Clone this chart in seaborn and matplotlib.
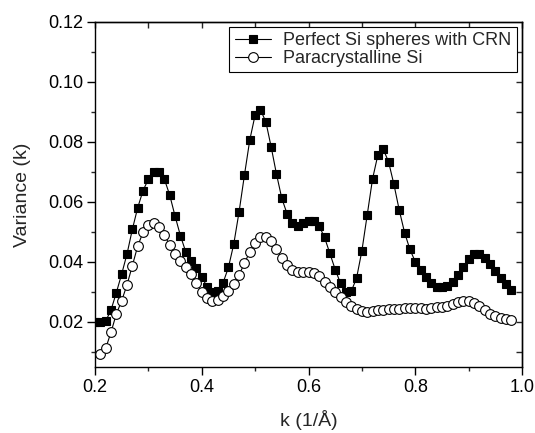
import numpy as np
import pandas as pd
import matplotlib
matplotlib.use("Agg")
import matplotlib.pyplot as plt
import seaborn as sns
from matplotlib.ticker import MultipleLocator

k_sq = [0.20, 0.21, 0.22, 0.23, 0.24, 0.25, 0.26, 0.27, 0.28, 0.29,
        0.30, 0.31, 0.32, 0.33, 0.34, 0.35, 0.36, 0.37, 0.38, 0.39,
        0.40, 0.41, 0.42, 0.43, 0.44, 0.45, 0.46, 0.47, 0.48, 0.49,
        0.50, 0.51, 0.52, 0.53, 0.54, 0.55, 0.56, 0.57, 0.58, 0.59,
        0.60, 0.61, 0.62, 0.63, 0.64, 0.65, 0.66, 0.67, 0.68, 0.69,
        0.70, 0.71, 0.72, 0.73, 0.74, 0.75, 0.76, 0.77, 0.78, 0.79,
        0.80, 0.81, 0.82, 0.83, 0.84, 0.85, 0.86, 0.87, 0.88, 0.89,
        0.90, 0.91, 0.92, 0.93, 0.94, 0.95, 0.96, 0.97, 0.98]
v_crn = [0.0200, 0.0199, 0.0203, 0.0240, 0.0298, 0.0360, 0.0427, 0.0509, 0.0581, 0.0638,
         0.0676, 0.0699, 0.0701, 0.0676, 0.0623, 0.0553, 0.0488, 0.0434, 0.0404, 0.0379,
         0.0349, 0.0318, 0.0301, 0.0303, 0.0331, 0.0382, 0.0460, 0.0568, 0.0690, 0.0807,
         0.0890, 0.0907, 0.0868, 0.0784, 0.0693, 0.0612, 0.0560, 0.0529, 0.0520, 0.0529,
         0.0538, 0.0538, 0.0520, 0.0482, 0.0429, 0.0375, 0.0329, 0.0301, 0.0302, 0.0346,
         0.0437, 0.0557, 0.0677, 0.0757, 0.0776, 0.0734, 0.0659, 0.0573, 0.0498, 0.0442,
         0.0401, 0.0373, 0.0349, 0.0329, 0.0318, 0.0316, 0.0320, 0.0335, 0.0358, 0.0385,
         0.0410, 0.0425, 0.0426, 0.0412, 0.0392, 0.0370, 0.0347, 0.0327, 0.0307]

k_ci = [0.21, 0.22, 0.23, 0.24, 0.25, 0.26, 0.27, 0.28, 0.29,
        0.30, 0.31, 0.32, 0.33, 0.34, 0.35, 0.36, 0.37, 0.38, 0.39,
        0.40, 0.41, 0.42, 0.43, 0.44, 0.45, 0.46, 0.47, 0.48, 0.49,
        0.50, 0.51, 0.52, 0.53, 0.54, 0.55, 0.56, 0.57, 0.58, 0.59,
        0.60, 0.61, 0.62, 0.63, 0.64, 0.65, 0.66, 0.67, 0.68, 0.69,
        0.70, 0.71, 0.72, 0.73, 0.74, 0.75, 0.76, 0.77, 0.78, 0.79,
        0.80, 0.81, 0.82, 0.83, 0.84, 0.85, 0.86, 0.87, 0.88, 0.89,
        0.90, 0.91, 0.92, 0.93, 0.94, 0.95, 0.96, 0.97, 0.98]
v_para = [0.0095, 0.0112, 0.0166, 0.0227, 0.0271, 0.0324, 0.0388, 0.0453, 0.0499,
          0.0522, 0.0531, 0.0516, 0.0490, 0.0456, 0.0426, 0.0404, 0.0384, 0.0360, 0.0329,
          0.0301, 0.0279, 0.0271, 0.0273, 0.0288, 0.0304, 0.0327, 0.0357, 0.0396, 0.0434,
          0.0462, 0.0482, 0.0484, 0.0471, 0.0442, 0.0412, 0.0390, 0.0375, 0.0366, 0.0368,
          0.0368, 0.0362, 0.0352, 0.0335, 0.0318, 0.0300, 0.0283, 0.0268, 0.0255, 0.0245,
          0.0238, 0.0235, 0.0236, 0.0239, 0.0240, 0.0242, 0.0243, 0.0245, 0.0246, 0.0247,
          0.0247, 0.0246, 0.0245, 0.0246, 0.0249, 0.0251, 0.0253, 0.0259, 0.0267, 0.0271,
          0.0270, 0.0264, 0.0253, 0.0240, 0.0228, 0.0219, 0.0213, 0.0209, 0.0207]

labels = ["Perfect Si spheres with CRN", "Paracrystalline Si"]
xticks = [0.2, 0.4, 0.6, 0.8, 1.0]
xticklabels = ["0.2", "0.4", "0.6", "0.8", "1.0"]
yticks = [0.02, 0.04, 0.06, 0.08, 0.10, 0.12]
yticklabels = ["0.02", "0.04", "0.06", "0.08", "0.10", "0.12"]

sns.set_style("ticks")
plt.rcParams['font.family'] = ['Liberation Sans', 'DejaVu Sans']

fig = plt.figure(figsize=(5.35, 4.33), dpi=100)
ax = fig.add_axes([95/535, 1 - 367/433, (522-95)/535, (367-22)/433])

df1 = pd.DataFrame({"k": k_sq, "v": v_crn})
df2 = pd.DataFrame({"k": k_ci, "v": v_para})

sns.lineplot(data=df1, x="k", y="v", ax=ax, color="black", linewidth=0.8,
             marker="s", markersize=6.3, markerfacecolor="black",
             markeredgecolor="black", markeredgewidth=0.8, label=labels[0])
sns.lineplot(data=df2, x="k", y="v", ax=ax, color="black", linewidth=0.8,
             marker="o", markersize=7, markerfacecolor="white",
             markeredgecolor="black", markeredgewidth=0.8, label=labels[1])

ax.set_xlim(0.2, 1.0)
ax.set_ylim(0.005, 0.12)
ax.set_xticks(xticks)
ax.set_xticklabels(xticklabels)
ax.xaxis.set_minor_locator(MultipleLocator(0.1))
ax.set_yticks(yticks)
ax.set_yticklabels(yticklabels)
ax.set_yticks([0.01, 0.03, 0.05, 0.07, 0.09, 0.11], minor=True)

for s in ax.spines.values():
    s.set_visible(True)
    s.set_color("black")
    s.set_linewidth(1.0)

ax.tick_params(axis="both", which="major", direction="out", length=5.5, width=1,
               labelsize=13, colors="black", pad=3)
ax.tick_params(axis="both", which="minor", direction="out", length=3, width=1)
sec_x = ax.secondary_xaxis("top")
sec_x.xaxis.set_major_locator(MultipleLocator(0.1))
sec_x.tick_params(direction="in", length=4, width=1, labeltop=False)
sec_x.spines["top"].set_linewidth(1.0)
sec_y = ax.secondary_yaxis("right")
sec_y.set_yticks([0.01, 0.02, 0.03, 0.04, 0.05, 0.06, 0.07, 0.08, 0.09, 0.10, 0.11])
sec_y.tick_params(direction="in", length=4, width=1, labelright=False)
sec_y.spines["right"].set_linewidth(1.0)

ax.set_xlabel("k (1/Å)", fontsize=14, labelpad=10)
ax.set_ylabel("Variance (k)", fontsize=14, labelpad=12)

leg = ax.legend(loc="upper right", fontsize=13, frameon=True, fancybox=False,
                edgecolor="black", framealpha=1, borderaxespad=0.3,
                handlelength=2.0, handletextpad=0.7, borderpad=0.28,
                labelspacing=0.05)
leg.get_frame().set_linewidth(0.8)

fig.savefig("out.png", dpi=100)
